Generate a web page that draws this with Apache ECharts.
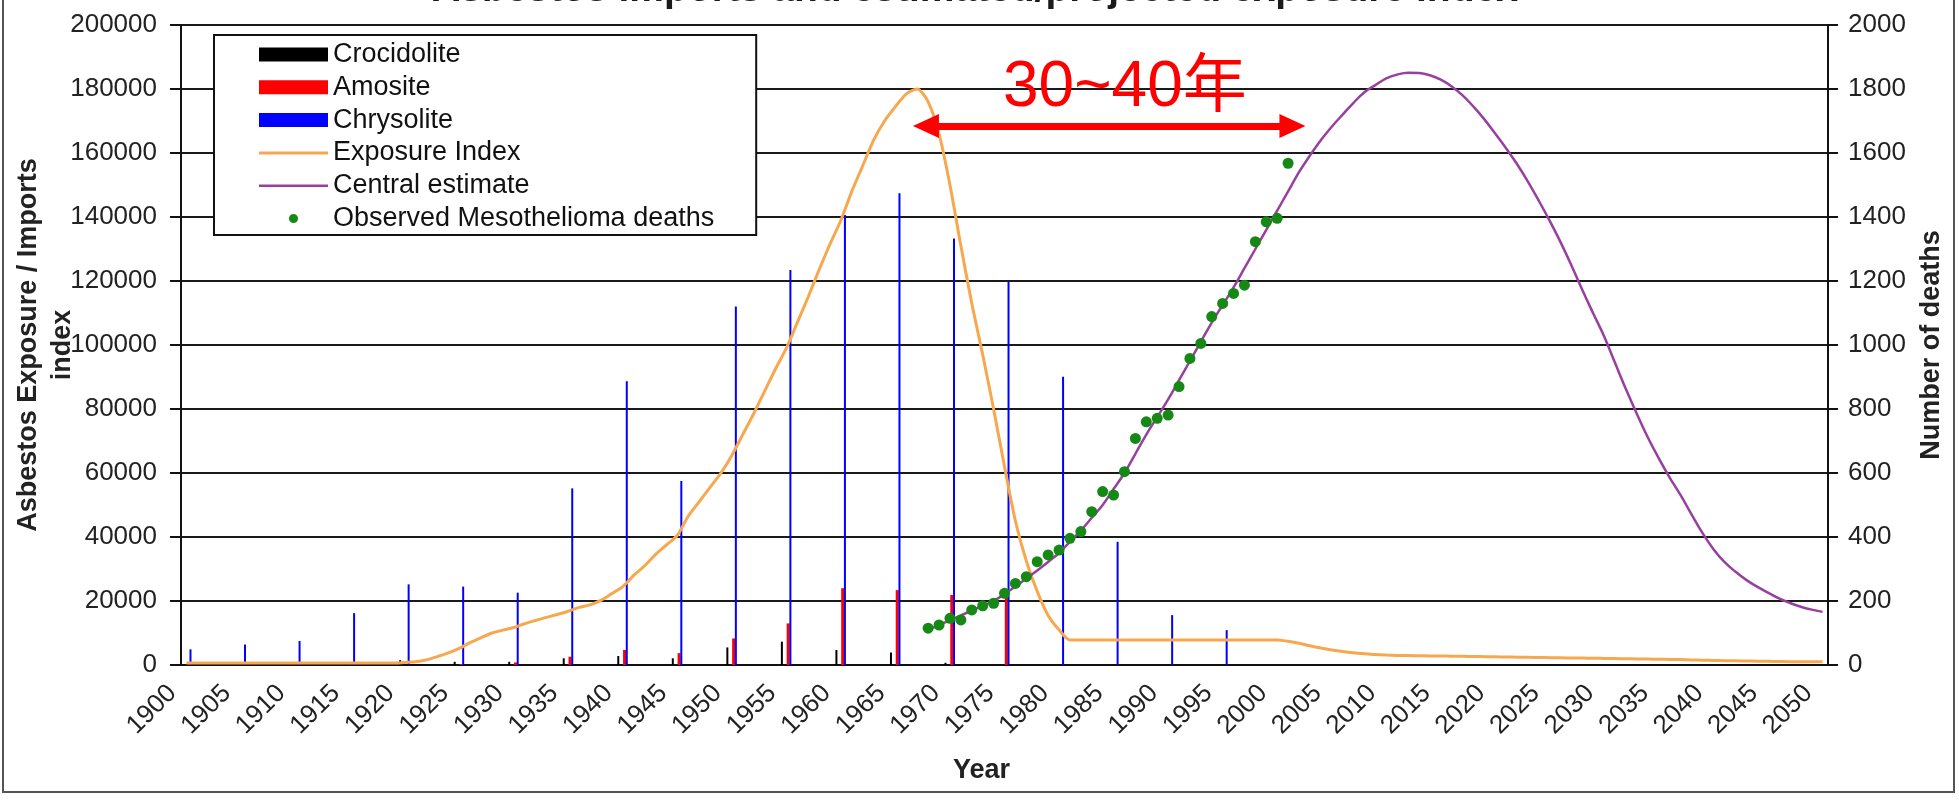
<!DOCTYPE html>
<html>
<head>
<meta charset="utf-8">
<script src="https://cdn.jsdelivr.net/npm/echarts@6/dist/echarts.min.js"></script>
<style>
html,body{margin:0;padding:0;background:#fff;}
#chart{width:1959px;height:803px;}
</style>
</head>
<body>
<div id="chart"></div>
<script>
// ---------------- data ----------------
const firstYear = 1900;
const lastYear = 2050;
const years = [];
for (let y = firstYear; y <= lastYear; y++) years.push(String(y));

// import bars, one group every 5 years (1900 ... 1995)
const barYears = [1900,1905,1910,1915,1920,1925,1930,1935,1940,1945,1950,1955,1960,1965,1970,1975,1980,1985,1990,1995];
const crocidolite = [0,0,0,300,1500,1000,1000,2100,2800,2100,5500,7300,4700,3900,700,0,0,0,0,0];
const amosite     = [0,0,0,0,0,300,800,2600,4700,3700,8300,13000,24000,23400,21900,21600,0,0,0,0];
const chrysolite  = [4900,6400,7500,16200,25200,24500,22600,55200,88700,57500,112000,123400,140600,147400,133300,120000,90100,38500,15600,10900];

// exposure index, yearly 1900 ... 2050
const exposureIndex = [
  600,600,600,600,600,600,600,600,600,600,          // 1900-1909
  600,600,600,600,600,600,600,600,600,600,          // 1910-1919
  800,1000,1600,2600,3800,5200,7000,8500,10000,10900, // 1920-1929
  11700,12900,13900,14900,15800,16800,18000,18800,20200,22300, // 1930-1939
  24500,28000,31000,34500,37500,40500,46500,51000,55500,60000, // 1940-1949
  65500,72000,78500,85500,92500,99000,107000,115000,123500,131500, // 1950-1959
  139000,148000,156000,164000,170000,174500,178500,180000,176000,166000, // 1960-1969
  150000,131000,113000,97000,80000,62000,45000,32500,23000,15500, // 1970-1979
  11000,7800,7800,7800,7800,7800,7800,7800,7800,7800, // 1980-1989
  7800,7800,7800,7800,7800,7800,7800,7800,7800,7800, // 1990-1999
  7800,7400,6800,6000,5300,4700,4200,3800,3500,3250, // 2000-2009
  3100,3000,2950,2900,2850,2800,2750,2700,2650,2600, // 2010-2019
  2550,2500,2450,2400,2350,2300,2250,2200,2150,2100, // 2020-2029
  2050,2000,1950,1900,1850,1800,1750,1700,1600,1500, // 2030-2039
  1400,1350,1300,1250,1200,1150,1100,1050,1050,1000, // 2040-2049
  1000                                               // 2050
];

// central estimate of deaths, yearly 1968 ... 2050
const centralStart = 1968;
const centralEstimate = [
  110,125,140,155,170,185,200,222,245,270,            // 1968-1977
  295,322,350,385,420,460,500,550,600,660,            // 1978-1987
  720,775,830,890,950,1010,1070,1125,1180,1240,       // 1988-1997
  1300,1360,1420,1480,1540,1592,1640,1682,1720,1757,  // 1998-2007
  1790,1812,1833,1845,1851,1850,1843,1829,1808,1780,  // 2008-2017
  1745,1705,1660,1614,1565,1510,1450,1387,1320,1247,  // 2018-2027
  1170,1097,1025,942,860,783,710,645,585,530,         // 2028-2037
  470,412,362,322,292,266,245,226,208,194,            // 2038-2047
  182,173,166                                         // 2048-2050
];

// observed mesothelioma deaths, yearly 1968 ... 2001
const observedStart = 1968;
const observedDeaths = [
  115,125,146,141,172,185,193,224,255,276,
  323,344,359,396,417,479,542,531,604,708,
  760,771,781,870,958,1005,1089,1130,1161,1187,
  1323,1385,1396,1568
];

// annotation (years on the x scale, value on the left scale)
const arrowFromYear = 1967.8;
const arrowToYear = 2001.4;
const arrowValue = 168400;

// ---------------- chart ----------------
const FONT = '"Liberation Sans", Arial, sans-serif';
const BAR_SHIFT = { Crocidolite: -0.41, Amosite: 0.12, Chrysolite: 0.37 };

function barSeries(name, values, color, width, extra) {
  return Object.assign({
    name: name,
    type: 'bar',
    xAxisIndex: 1,
    yAxisIndex: 0,
    barWidth: width,
    barGap: '-100%',
    silent: true,
    itemStyle: { color: color },
    data: barYears.map((y, i) => [y + BAR_SHIFT[name], values[i]]),
    z: 2
  }, extra || {});
}

const dotIcon = 'path://M0,0M20,20M10,3.5A6.5,6.5 0 1 1 10,16.5A6.5,6.5 0 1 1 10,3.5Z';
const lineIcon3 = 'path://M0,0H69V3H0Z';
const lineIcon2 = 'path://M0,0H69V2.5H0Z';
const plainLabel = v => String(v);

const chart = echarts.init(document.getElementById('chart'), null, { renderer: 'canvas' });
chart.setOption({
  animation: false,
  backgroundColor: '#ffffff',
  textStyle: { fontFamily: FONT },
  grid: { left: 181, right: 131, top: 25, bottom: 138, containLabel: false, outerBoundsMode: 'none' },
  legend: {
    orient: 'vertical',
    left: 214,
    top: 35,
    padding: [6, 42, 3, 45],
    itemWidth: 69,
    itemHeight: 14,
    itemGap: 5.8,
    borderColor: '#111',
    borderWidth: 2,
    backgroundColor: '#ffffff',
    selectedMode: false,
    textStyle: { fontFamily: FONT, fontSize: 27, lineHeight: 26, color: '#111' },
    data: [
      { name: 'Crocidolite', icon: 'rect' },
      { name: 'Amosite', icon: 'rect' },
      { name: 'Chrysolite', icon: 'rect' },
      { name: 'Exposure Index', icon: lineIcon3 },
      { name: 'Central estimate', icon: lineIcon2 },
      { name: 'Observed Mesothelioma deaths', icon: dotIcon }
    ]
  },
  xAxis: [
    {
      type: 'category',
      data: years,
      boundaryGap: true,
      axisLine: { lineStyle: { color: '#111', width: 2 } },
      axisTick: { show: false },
      axisLabel: { interval: 4, rotate: 45, fontSize: 26, color: '#222', margin: 10, padding: [0, 20, 0, 0], fontFamily: FONT },
      splitLine: { show: false },
      name: 'Year',
      nameLocation: 'middle',
      nameGap: 92,
      nameMoveOverlap: false,
      nameTextStyle: { fontFamily: FONT, fontWeight: 'bold', fontSize: 27, color: '#222', padding: [0, 46, 0, 0] }
    },
    {
      type: 'value',
      min: firstYear - 0.5,
      max: lastYear + 0.5,
      show: false,
      splitLine: { show: false }
    }
  ],
  yAxis: [
    {
      type: 'value',
      position: 'left',
      min: 0,
      max: 200000,
      interval: 20000,
      axisLine: { show: true, lineStyle: { color: '#111', width: 2 } },
      axisTick: { show: true, length: 11, inside: false, lineStyle: { color: '#111', width: 2 } },
      axisLabel: { margin: 24, fontSize: 26, color: '#222', fontFamily: FONT, formatter: plainLabel },
      splitLine: { show: true, lineStyle: { color: '#1a1a1a', width: 2 } },
      name: 'Asbestos Exposure / Imports\nindex',
      nameLocation: 'middle',
      nameRotate: 90,
      nameGap: 101,
      nameMoveOverlap: false,
      nameTextStyle: { fontFamily: FONT, fontWeight: 'bold', fontSize: 27, lineHeight: 34, color: '#222', align: 'center' }
    },
    {
      type: 'value',
      position: 'right',
      min: 0,
      max: 2000,
      interval: 200,
      axisLine: { show: true, lineStyle: { color: '#111', width: 2 } },
      axisTick: { show: true, length: 10, inside: false, lineStyle: { color: '#111', width: 2 } },
      axisLabel: { margin: 20, fontSize: 26, color: '#222', fontFamily: FONT, formatter: plainLabel },
      splitLine: { show: false },
      name: 'Number of deaths',
      nameLocation: 'middle',
      nameRotate: 90,
      nameGap: 90,
      nameMoveOverlap: false,
      nameTextStyle: { fontFamily: FONT, fontWeight: 'bold', fontSize: 27, color: '#222' }
    }
  ],
  series: [
    barSeries('Crocidolite', crocidolite, '#000000', 2),
    barSeries('Amosite', amosite, '#ff0000', 3),
    barSeries('Chrysolite', chrysolite, '#0000ff', 2, {
      markLine: {
        silent: true,
        animation: false,
        symbol: ['triangle', 'triangle'],
        symbolSize: [24, 26],
        label: { show: false },
        emphasis: { disabled: true },
        lineStyle: { color: '#ff0000', width: 7, type: 'solid', opacity: 1 },
        data: [[{ coord: [arrowFromYear, arrowValue] }, { coord: [arrowToYear, arrowValue] }]]
      }
    }),
    {
      name: 'Exposure Index',
      type: 'line',
      xAxisIndex: 0,
      yAxisIndex: 0,
      data: exposureIndex,
      symbol: 'none',
      showSymbol: false,
      smooth: 0.25,
      silent: true,
      lineStyle: { color: '#f7a84e', width: 3 },
      itemStyle: { color: '#f7a84e' },
      z: 3
    },
    {
      name: 'Central estimate',
      type: 'line',
      xAxisIndex: 0,
      yAxisIndex: 1,
      data: centralEstimate.map((v, i) => [String(centralStart + i), v]),
      symbol: 'none',
      showSymbol: false,
      smooth: 0.4,
      silent: true,
      lineStyle: { color: '#97409f', width: 2.5 },
      itemStyle: { color: '#97409f' },
      z: 4
    },
    {
      name: 'Observed Mesothelioma deaths',
      type: 'scatter',
      xAxisIndex: 0,
      yAxisIndex: 1,
      data: observedDeaths.map((v, i) => [String(observedStart + i), v]),
      symbol: 'circle',
      symbolSize: 11,
      silent: true,
      itemStyle: { color: '#168816', opacity: 1 },
      z: 5
    }
  ],
  graphic: [
    {
      type: 'rect',
      silent: true,
      shape: { x: 3, y: -5, width: 1951, height: 797 },
      style: { fill: 'none', stroke: '#555', lineWidth: 2 },
      z: 0
    },
    {
      type: 'text',
      silent: true,
      x: 975,
      y: -10,
      style: {
        text: 'Asbestos imports and estimated/projected exposure index',
        fill: '#1a1a1a',
        fontFamily: FONT,
        fontWeight: 'bold',
        fontSize: 39,
        align: 'center',
        verticalAlign: 'middle'
      },
      z: 10
    },
    {
      type: 'text',
      silent: true,
      x: 1003,
      y: 88,
      style: {
        text: '30~40年',
        fill: '#ff0000',
        fontFamily: '"Liberation Sans", "Noto Sans CJK SC", sans-serif',
        fontSize: 64,
        align: 'left',
        verticalAlign: 'middle'
      },
      z: 10
    }
  ]
});
</script>
</body>
</html>
